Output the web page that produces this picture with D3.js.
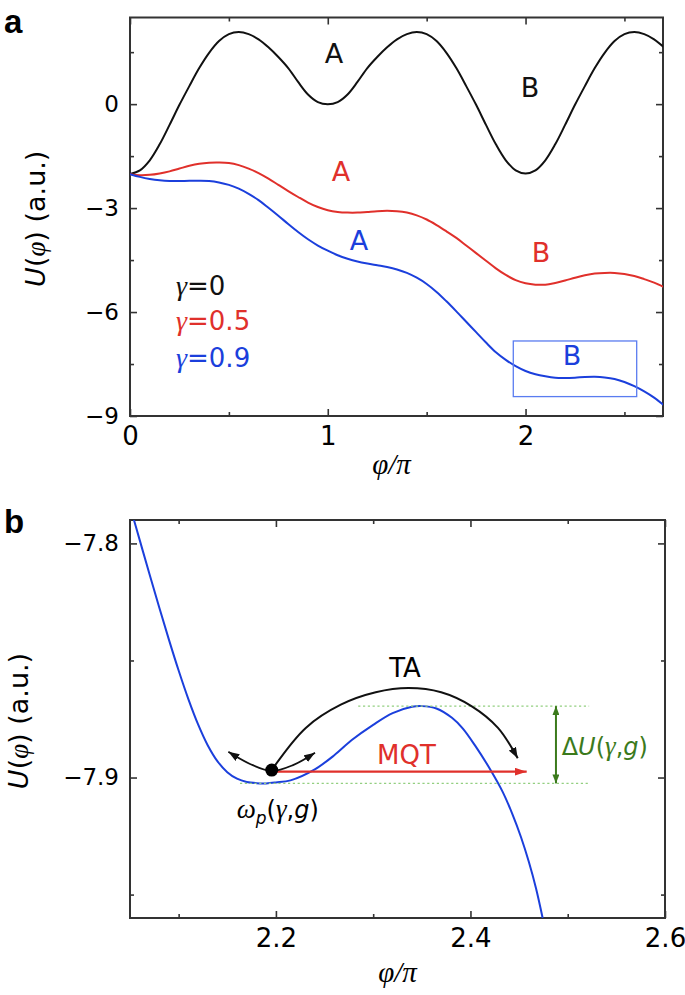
<!DOCTYPE html>
<html><head><meta charset="utf-8">
<script src="https://cdn.jsdelivr.net/npm/d3@7"></script>
<style>
html,body{margin:0;padding:0;background:#fff;}
svg{display:block;}
text{font-family:"DejaVu Sans",sans-serif;}
.serif{font-family:"Liberation Serif","DejaVu Serif",serif;font-style:italic;}
</style></head>
<body>
<svg id="c" width="685" height="995"></svg>
<script>
// ---------------- DATA ----------------
// Panel a : phase (in units of pi) and potentials for the three bias values
const phiA = [0,0.05,0.10,0.15,0.20,0.25,0.30,0.35,0.40,0.45,0.50,0.55,0.60,0.65,0.70,0.75,0.80,0.85,0.90,0.95,
  1.00,1.05,1.10,1.15,1.20,1.25,1.30,1.35,1.40,1.45,1.50,1.55,1.60,1.65,1.70,1.75,1.80,1.85,1.90,1.95,
  2.00,2.05,2.10,2.15,2.20,2.25,2.30,2.35,2.40,2.45,2.50,2.55,2.60,2.65,2.70];
const uGamma0 = [-2.02,-1.91,-1.62,-1.16,-0.60,-0.02,0.52,1.04,1.48,1.82,2.02,2.08,2.02,1.87,1.64,1.36,1.04,0.64,0.28,0.06,
  0.00,0.06,0.28,0.64,1.04,1.36,1.64,1.87,2.02,2.08,2.02,1.82,1.48,1.04,0.52,-0.02,-0.60,-1.16,-1.62,-1.91,
  -2.00,-1.91,-1.62,-1.16,-0.60,-0.02,0.52,1.04,1.48,1.82,2.02,2.08,2.02,1.87,1.64];
const uGamma05 = [-2.02,-2.05,-2.04,-2.00,-1.94,-1.86,-1.78,-1.72,-1.69,-1.685,-1.70,-1.76,-1.86,-1.99,-2.15,-2.33,-2.51,-2.68,-2.84,-2.97,
  -3.06,-3.11,-3.13,-3.13,-3.11,-3.09,-3.08,-3.09,-3.13,-3.21,-3.33,-3.49,-3.67,-3.86,-4.08,-4.30,-4.52,-4.74,-4.93,-5.08,
  -5.17,-5.21,-5.21,-5.16,-5.09,-5.01,-4.94,-4.89,-4.87,-4.87,-4.90,-4.96,-5.05,-5.15,-5.28];
const uGamma09 = [-2.02,-2.10,-2.16,-2.20,-2.22,-2.22,-2.21,-2.21,-2.22,-2.26,-2.33,-2.44,-2.59,-2.77,-2.99,-3.22,-3.46,-3.69,-3.90,-4.08,
  -4.23,-4.36,-4.46,-4.54,-4.60,-4.65,-4.70,-4.77,-4.87,-5.01,-5.19,-5.42,-5.69,-5.98,-6.28,-6.58,-6.88,-7.16,-7.38,-7.56,
  -7.70,-7.795,-7.855,-7.895,-7.901,-7.893,-7.876,-7.870,-7.886,-7.93,-8.02,-8.14,-8.29,-8.47,-8.69];
const gammaValues = ["0","0.5","0.9"];
// zoom window drawn on panel a: [phi0, phi1, u0, u1]
const zoomBox = [1.938, 2.562, -6.835, -8.44];

// Panel b : zoom on gamma = 0.9 near the B well
const phiB = [2.05,2.06,2.07,2.08,2.09,2.10,2.11,2.12,2.13,2.14,2.15,2.16,2.17,2.18,2.19,2.20,2.215,
  2.240,2.260,2.278,2.300,2.320,2.340,2.350,2.365,2.381,2.392,2.405,2.422,2.433,2.443,2.452,2.460,2.4675,2.4742];
const uB = [-7.7841,-7.7986,-7.8131,-7.8273,-7.8411,-7.8543,-7.8665,-7.8773,-7.8863,-7.8931,-7.8977,-7.9005,-7.9019,-7.9024,-7.9025,-7.9021,-7.9012,
  -7.8965,-7.8905,-7.8840,-7.8775,-7.8725,-7.8698,-7.8695,-7.8705,-7.8745,-7.8790,-7.8865,-7.8977,-7.9060,-7.9155,-7.9255,-7.9360,-7.9475,-7.960];
// particle position, thermal-activation path, oscillation, MQT arrow, barrier levels
const particle = [2.1957, -7.8968];
const taPhi = [2.1957,2.2307,2.2667,2.3026,2.3363,2.3699,2.4014,2.4283,2.4486];
const taU   = [-7.8968,-7.8788,-7.8689,-7.8636,-7.8618,-7.8636,-7.8696,-7.8788,-7.8918];
const oscPhi = [2.1511,2.1734,2.1957,2.2176,2.2402];
const oscU   = [-7.8890,-7.8942,-7.8972,-7.8947,-7.8894];
const mqtArrow = [2.1957, 2.4578, -7.8975];
const barrierTop = [2.2846, 2.5220, -7.8695];
const wellBottom = [2.1631, 2.5229, -7.9025];
const deltaUArrow = [2.4879, -7.8695, -7.9025];

// ticks
const xTicksA = [0,1,2], xMinorA = [0.5,1.5,2.5];
const yTicksA = [0,-3,-6,-9], yMinorA = [1.5,-1.5,-4.5,-7.5];
const xTicksB = [2.2,2.4,2.6], xMinorB = [2.1,2.3,2.5];
const yTicksB = [-7.8,-7.9], yMinorB = [-7.85,-7.95];

// ---------------- DRAW ----------------
const COL = {black:"#111111", red:"#e0302b", blue:"#1b3fdc", box:"#5a7cf0", green:"#3b7a1c", lgreen:"#93cf80", axis:"#333333"};
const svg = d3.select("#c");
svg.append("rect").attr("width",685).attr("height",995).attr("fill","#fff");

const defs = svg.append("defs");
function marker(id, color, len, wid){
  defs.append("marker").attr("id",id).attr("markerUnits","userSpaceOnUse")
    .attr("markerWidth",len).attr("markerHeight",wid).attr("refX",len).attr("refY",wid/2)
    .attr("orient","auto-start-reverse")
    .append("path").attr("d",`M0,0L${len},${wid/2}L0,${wid}Z`).attr("fill",color);
}
marker("arB", COL.black, 11, 8);
marker("arR", COL.red, 12, 8);
marker("arG", COL.green, 9, 7);

function panel(cfg){
  const g = svg.append("g");
  const x = d3.scaleLinear().domain(cfg.xd).range([cfg.l, cfg.r]);
  const y = d3.scaleLinear().domain(cfg.yd).range([cfg.b, cfg.t]);
  const w = cfg.r-cfg.l, h = cfg.b-cfg.t;
  const clipId = cfg.id+"clip";
  defs.append("clipPath").attr("id",clipId).append("rect").attr("x",cfg.l).attr("y",cfg.t).attr("width",w).attr("height",h);

  const mk = (axisFn, scale, vals, size, labels, fmt) => {
    const a = axisFn(scale).tickValues(vals).tickSizeInner(-size).tickSizeOuter(0).tickPadding(labels?cfg.pad:0);
    if (labels) a.tickFormat(fmt); else a.tickFormat("");
    return a;
  };
  const styleAxis = (sel, fs) => {
    sel.select(".domain").remove();
    sel.selectAll(".tick line").attr("stroke",COL.axis).attr("stroke-width",1.6);
    sel.selectAll("text").attr("fill","#000").style("font-size",fs+"px").style("font-family","DejaVu Sans, sans-serif");
  };
  const gb = g.append("g").attr("transform",`translate(0,${cfg.b})`);
  gb.append("g").call(mk(d3.axisBottom,x,cfg.xt,7,true,cfg.xfmt)).call(s=>styleAxis(s,cfg.xfs));
  gb.append("g").call(mk(d3.axisBottom,x,cfg.xm,4,false)).call(s=>styleAxis(s,cfg.xfs));
  const gt = g.append("g").attr("transform",`translate(0,${cfg.t})`);
  gt.append("g").call(mk(d3.axisTop,x,cfg.xt,7,false)).call(s=>styleAxis(s,10));
  gt.append("g").call(mk(d3.axisTop,x,cfg.xm,4,false)).call(s=>styleAxis(s,10));
  const gl = g.append("g").attr("transform",`translate(${cfg.l},0)`);
  gl.append("g").call(mk(d3.axisLeft,y,cfg.yt,7,true,cfg.yfmt)).call(s=>styleAxis(s,cfg.yfs));
  gl.append("g").call(mk(d3.axisLeft,y,cfg.ym,4,false)).call(s=>styleAxis(s,10));
  const gr = g.append("g").attr("transform",`translate(${cfg.r},0)`);
  gr.append("g").call(mk(d3.axisRight,y,cfg.yt,7,false)).call(s=>styleAxis(s,10));
  gr.append("g").call(mk(d3.axisRight,y,cfg.ym,4,false)).call(s=>styleAxis(s,10));
  g.append("rect").attr("x",cfg.l).attr("y",cfg.t).attr("width",w).attr("height",h)
    .attr("fill","none").attr("stroke",COL.axis).attr("stroke-width",2);

  const xt = g.append("text").attr("x",(cfg.l+cfg.r)/2+cfg.xtdx).attr("y",cfg.xty).attr("text-anchor","middle")
    .attr("class","serif").style("font-size","29px");
  xt.text("\u03c6/\u03c0");
  const yt = g.append("text").attr("transform",`translate(${cfg.ytx},${(cfg.t+cfg.b)/2+2}) rotate(-90)`)
    .attr("text-anchor","middle").style("font-size","27px");
  yt.append("tspan").style("font-style","italic").text("U");
  yt.append("tspan").text("(");
  yt.append("tspan").attr("class","serif").text("\u03c6");
  yt.append("tspan").text(") (a.u.)");

  g.append("text").attr("x",4).attr("y",cfg.lety).style("font-size","33px").style("font-weight","bold")
    .style("font-family","Liberation Sans, Arial, sans-serif").text(cfg.letter);

  const plot = g.append("g").attr("clip-path",`url(#${clipId})`);
  return {g, plot, x, y};
}

// ---------- panel a ----------
const A = panel({id:"a", l:130, r:663, t:17.5, b:416, xd:[0,2.695], yd:[-9,2.5],
  xt:xTicksA, xm:xMinorA, yt:yTicksA, ym:yMinorA, xfmt:d3.format("d"), yfmt:d3.format("d"),
  xfs:26, yfs:23, pad:11, xty:474, xtdx:-5, ytx:45, letter:"a", lety:33});
const lineA = d3.line().x((d,i)=>A.x(phiA[i])).y(d=>A.y(d)).curve(d3.curveCatmullRom.alpha(0.5));
[[uGamma0,COL.black],[uGamma05,COL.red],[uGamma09,COL.blue]].forEach(([vals,c])=>{
  A.plot.append("path").attr("d",lineA(vals)).attr("fill","none").attr("stroke",c).attr("stroke-width",2);
});
A.plot.append("rect").attr("x",A.x(zoomBox[0])).attr("y",A.y(zoomBox[2]))
  .attr("width",A.x(zoomBox[1])-A.x(zoomBox[0])).attr("height",A.y(zoomBox[3])-A.y(zoomBox[2]))
  .attr("fill","none").attr("stroke",COL.box).attr("stroke-width",1.3);
const wellLabels = [
  ["A",1.031,1.19,COL.black],["B",2.022,0.22,COL.black],
  ["A",1.067,-2.21,COL.red],["B",2.078,-4.57,COL.red],
  ["A",1.158,-4.21,COL.blue],["B",2.235,-7.53,COL.blue]];
wellLabels.forEach(([t,px,py,c])=>{
  A.g.append("text").attr("x",A.x(px)).attr("y",A.y(py)).attr("text-anchor","middle")
    .style("font-size","27px").attr("fill",c).text(t);
});
const legY = [-5.51,-6.52,-7.58];
[COL.black,COL.red,COL.blue].forEach((c,i)=>{
  const t = A.g.append("text").attr("x",A.x(0.2326)).attr("y",A.y(legY[i])).attr("fill",c).style("font-size","26px");
  t.append("tspan").attr("class","serif").style("font-size","28px").text("\u03b3");
  t.append("tspan").text("="+gammaValues[i]);
});

// ---------- panel b ----------
const B = panel({id:"b", l:130, r:665, t:520, b:918, xd:[2.05,2.6], yd:[-7.96,-7.79],
  xt:xTicksB, xm:xMinorB, yt:yTicksB, ym:yMinorB, xfmt:d3.format(".1f"), yfmt:d3.format(".1f"),
  xfs:26, yfs:23, pad:11, xty:982, xtdx:0, ytx:28, letter:"b", lety:533});
const lineB = d3.line().x((d,i)=>B.x(phiB[i])).y(d=>B.y(d)).curve(d3.curveCatmullRom.alpha(0.5));
B.plot.append("path").attr("d",lineB(uB)).attr("fill","none").attr("stroke",COL.blue).attr("stroke-width",2);

[barrierTop, wellBottom].forEach(([p0,p1,u])=>{
  B.g.append("line").attr("x1",B.x(p0)).attr("x2",B.x(p1)).attr("y1",B.y(u)).attr("y2",B.y(u))
    .attr("stroke",COL.lgreen).attr("stroke-width",1.3).attr("stroke-dasharray","2.2,2.6");
});
B.g.append("line").attr("x1",B.x(deltaUArrow[0])).attr("x2",B.x(deltaUArrow[0]))
  .attr("y1",B.y(deltaUArrow[1])).attr("y2",B.y(deltaUArrow[2]))
  .attr("stroke",COL.green).attr("stroke-width",2)
  .attr("marker-start","url(#arG)").attr("marker-end","url(#arG)");
B.g.append("line").attr("x1",B.x(mqtArrow[0])).attr("x2",B.x(mqtArrow[1]))
  .attr("y1",B.y(mqtArrow[2])).attr("y2",B.y(mqtArrow[2]))
  .attr("stroke",COL.red).attr("stroke-width",2.2).attr("marker-end","url(#arR)");
const lineTA = d3.line().x((d,i)=>B.x(taPhi[i])).y(d=>B.y(d)).curve(d3.curveCatmullRom.alpha(0.5));
B.g.append("path").attr("d",lineTA(taU)).attr("fill","none").attr("stroke",COL.black).attr("stroke-width",2)
  .attr("marker-end","url(#arB)");
const lineOsc = d3.line().x((d,i)=>B.x(oscPhi[i])).y(d=>B.y(d)).curve(d3.curveCatmullRom.alpha(0.5));
B.g.append("path").attr("d",lineOsc(oscU)).attr("fill","none").attr("stroke",COL.black).attr("stroke-width",1.8)
  .attr("marker-start","url(#arB)").attr("marker-end","url(#arB)");
B.g.append("circle").attr("cx",B.x(particle[0])).attr("cy",B.y(particle[1])).attr("r",6.5).attr("fill","#000");

B.g.append("text").attr("x",B.x(2.3327)).attr("y",B.y(-7.8569)).attr("text-anchor","middle")
  .style("font-size","26px").attr("fill","#000").text("TA");
B.g.append("text").attr("x",B.x(2.3342)).attr("y",B.y(-7.8942)).attr("text-anchor","middle")
  .style("font-size","26px").attr("fill",COL.red).text("MQT");
const om = B.g.append("text").attr("x",B.x(2.1597)).attr("y",B.y(-7.9173)).style("font-size","24px").attr("fill","#000");
om.append("tspan").attr("class","serif").style("font-size","27px").text("\u03c9");
om.append("tspan").style("font-style","italic").style("font-size","17px").attr("dy",6).text("p");
om.append("tspan").attr("dy",-6).text("(");
om.append("tspan").attr("class","serif").style("font-size","27px").text("\u03b3");
om.append("tspan").text(",");
om.append("tspan").style("font-style","italic").text("g");
om.append("tspan").text(")");
const du = B.g.append("text").attr("x",B.x(2.4938)).attr("y",B.y(-7.8904)).style("font-size","24px").attr("fill",COL.green);
du.append("tspan").text("\u0394");
du.append("tspan").style("font-style","italic").text("U");
du.append("tspan").text("(");
du.append("tspan").attr("class","serif").style("font-size","27px").text("\u03b3");
du.append("tspan").text(",");
du.append("tspan").style("font-style","italic").text("g");
du.append("tspan").text(")");
</script>
</body></html>
